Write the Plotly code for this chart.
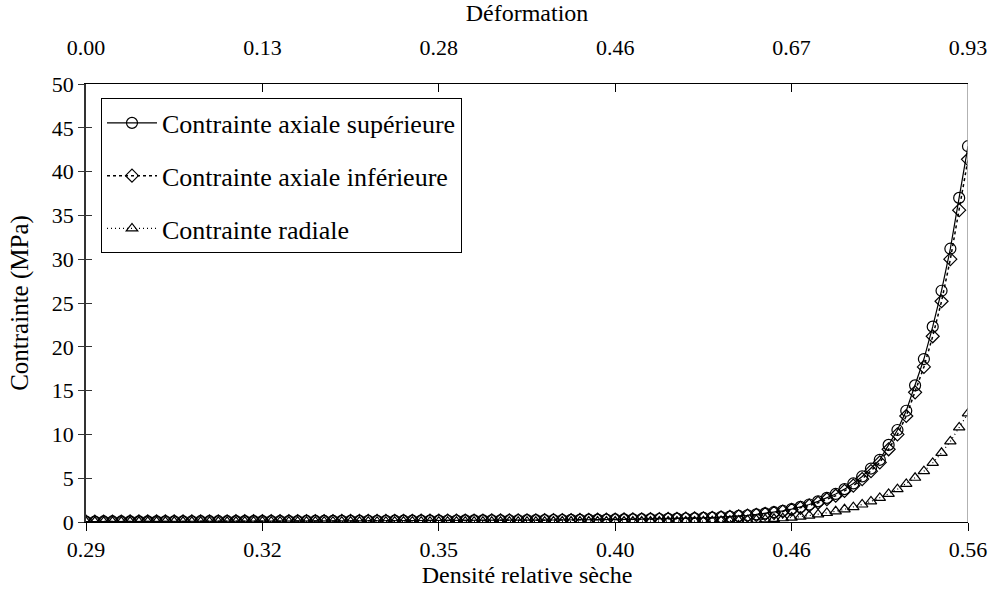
import plotly.graph_objects as go

idx = list(range(101))

density_ticks = ["0.29", "0.32", "0.35", "0.40", "0.46", "0.56"]
deformation_ticks = ["0.00", "0.13", "0.28", "0.46", "0.67", "0.93"]
tick_pos = [0, 20, 40, 60, 80, 100]

upper = [
    0.05, 0.05, 0.06, 0.06, 0.06, 0.07, 0.07, 0.07, 0.07, 0.08,
    0.08, 0.08, 0.08, 0.09, 0.09, 0.09, 0.09, 0.10, 0.10, 0.10,
    0.10, 0.11, 0.11, 0.11, 0.11, 0.12, 0.12, 0.12, 0.12, 0.13,
    0.13, 0.13, 0.14, 0.14, 0.14, 0.15, 0.15, 0.15, 0.16, 0.16,
    0.16, 0.17, 0.17, 0.18, 0.18, 0.18, 0.19, 0.19, 0.20, 0.20,
    0.21, 0.21, 0.22, 0.23, 0.23, 0.24, 0.25, 0.26, 0.27, 0.28,
    0.29, 0.30, 0.31, 0.32, 0.33, 0.34, 0.36, 0.38, 0.40, 0.42,
    0.46, 0.51, 0.56, 0.62, 0.69, 0.77, 0.87, 0.98, 1.12, 1.28,
    1.48, 1.72, 2.00, 2.35, 2.75, 3.20, 3.75, 4.40, 5.20, 6.10,
    7.10, 8.80, 10.5, 12.7, 15.6, 18.6, 22.3, 26.4, 31.2, 37.0,
    42.9,
]

lower = [
    0.04, 0.04, 0.05, 0.05, 0.05, 0.06, 0.06, 0.06, 0.06, 0.07,
    0.07, 0.07, 0.07, 0.08, 0.08, 0.08, 0.08, 0.09, 0.09, 0.09,
    0.09, 0.10, 0.10, 0.10, 0.10, 0.11, 0.11, 0.11, 0.11, 0.12,
    0.12, 0.12, 0.13, 0.13, 0.13, 0.14, 0.14, 0.14, 0.15, 0.15,
    0.15, 0.16, 0.16, 0.17, 0.17, 0.17, 0.18, 0.18, 0.19, 0.19,
    0.20, 0.20, 0.21, 0.22, 0.22, 0.23, 0.24, 0.25, 0.26, 0.27,
    0.28, 0.29, 0.30, 0.31, 0.32, 0.33, 0.35, 0.37, 0.39, 0.41,
    0.43, 0.47, 0.52, 0.58, 0.64, 0.72, 0.81, 0.92, 1.05, 1.20,
    1.40, 1.62, 1.88, 2.20, 2.60, 3.00, 3.55, 4.15, 4.90, 5.80,
    6.80, 8.30, 10.0, 12.1, 14.8, 17.7, 21.2, 25.2, 30.0, 35.6,
    41.4,
]

radial = [
    0.02, 0.02, 0.02, 0.02, 0.02, 0.02, 0.02, 0.02, 0.02, 0.02,
    0.02, 0.02, 0.02, 0.02, 0.02, 0.02, 0.02, 0.02, 0.03, 0.03,
    0.03, 0.03, 0.03, 0.03, 0.03, 0.03, 0.03, 0.03, 0.03, 0.03,
    0.03, 0.03, 0.03, 0.03, 0.03, 0.03, 0.03, 0.04, 0.04, 0.04,
    0.04, 0.04, 0.04, 0.04, 0.04, 0.04, 0.04, 0.04, 0.04, 0.04,
    0.04, 0.04, 0.04, 0.05, 0.05, 0.05, 0.05, 0.05, 0.05, 0.05,
    0.05, 0.05, 0.05, 0.06, 0.06, 0.06, 0.06, 0.06, 0.07, 0.07,
    0.08, 0.10, 0.12, 0.14, 0.17, 0.21, 0.25, 0.30, 0.36, 0.43,
    0.51, 0.61, 0.73, 0.87, 1.03, 1.22, 1.45, 1.70, 2.00, 2.35,
    2.75, 3.20, 3.75, 4.35, 5.05, 5.80, 6.75, 7.90, 9.20, 10.8,
    12.4,
]

FONT = "Liberation Serif, Times New Roman, serif"

fig = go.Figure()

fig.add_trace(go.Scatter(
    x=idx, y=upper, mode="lines+markers", name="Contrainte axiale supérieure",
    legendgroup="a",
    line=dict(color="black", width=1.2),
    marker=dict(symbol="circle-open", size=11, color="black", line=dict(width=1.2)),
))
fig.add_trace(go.Scatter(
    x=idx, y=lower, mode="lines+markers", name="Contrainte axiale inférieure",
    legendgroup="b",
    line=dict(color="black", width=1.5, dash="3px,3px"),
    marker=dict(symbol="diamond-open", size=10, color="black", line=dict(width=1.2)),
))
fig.add_trace(go.Scatter(
    x=idx, y=radial, mode="lines+markers", name="Contrainte radiale",
    legendgroup="c",
    line=dict(color="black", width=1.2, dash="1px,3px"),
    marker=dict(symbol="triangle-up-open", size=10, color="black", line=dict(width=1.2)),
))
# invisible trace carrying the top axis
fig.add_trace(go.Scatter(
    x=[0, 100], y=[0, 0], xaxis="x2", yaxis="y2", mode="markers",
    marker=dict(opacity=0), showlegend=False, hoverinfo="skip",
))

fig.update_layout(
    width=999, height=600,
    margin=dict(l=86, r=21, t=82, b=78),
    paper_bgcolor="white", plot_bgcolor="white",
    font=dict(family=FONT, size=22, color="black"),
    showlegend=True,
    legend=dict(
        x=0.017, y=0.967, xanchor="left", yanchor="top",
        bordercolor="black", borderwidth=1, bgcolor="white",
        font=dict(family=FONT, size=26, color="black"),
        tracegroupgap=16, traceorder="grouped",
        itemwidth=50,
    ),
    xaxis=dict(
        range=[0, 100], tickvals=tick_pos, ticktext=density_ticks,
        showgrid=False, zeroline=False,
        showline=True, linecolor="black", linewidth=1,
        ticks="outside", ticklen=8, tickcolor="black",
        title=dict(text="Densité relative sèche", font=dict(family=FONT, size=24), standoff=4),
        tickfont=dict(family=FONT, size=22),
    ),
    xaxis2=dict(
        range=[0, 100], tickvals=tick_pos, ticktext=deformation_ticks,
        overlaying="x", side="top", anchor="y",
        showgrid=False, zeroline=False,
        showline=True, linecolor="black", linewidth=1,
        ticks="inside", ticklen=8, tickcolor="black",
        ticklabelstandoff=19,
        title=dict(text="Déformation", font=dict(family=FONT, size=24), standoff=6),
        tickfont=dict(family=FONT, size=22),
    ),
    yaxis=dict(
        range=[0, 50], dtick=5, showgrid=False, zeroline=False,
        showline=True, linecolor="#333", linewidth=1.5,
        ticks="outside", ticklen=6, tickcolor="#333",
        title=dict(text="Contrainte (MPa)", font=dict(family=FONT, size=25), standoff=16),
        tickfont=dict(family=FONT, size=22),
    ),
    yaxis2=dict(
        range=[0, 50], dtick=5, overlaying="y", side="left", anchor="x",
        showgrid=False, zeroline=False, showline=False,
        ticks="inside", ticklen=6, tickcolor="#333", showticklabels=False,
    ),
    shapes=[dict(type="line", xref="x", yref="paper", x0=100, x1=100, y0=0, y1=1,
                 line=dict(color="#999999", width=1.5))],
)

fig.write_html(
    "out.html",
    config={"displayModeBar": False, "responsive": False},
    post_script="document.body.style.margin='0';document.body.style.overflow='hidden';",
)
